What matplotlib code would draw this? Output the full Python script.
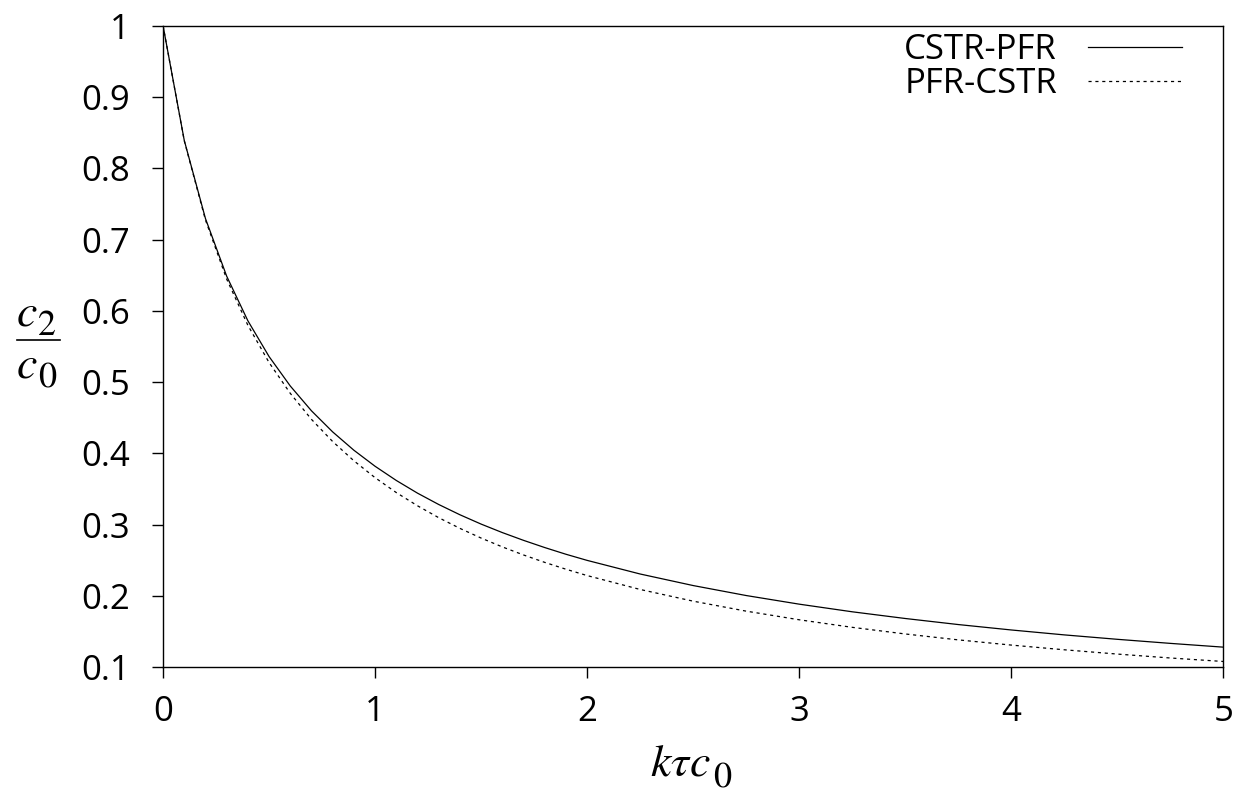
import matplotlib.pyplot as plt
from matplotlib.lines import Line2D

plt.rcParams['font.family'] = ['Open Sans', 'DejaVu Sans']
plt.rcParams['mathtext.fontset'] = 'stix'

# k*tau*c0 values and outlet concentration ratio c2/c0
x = [0, .1, .2, .3, .4, .5, .6, .7, .8, .9, 1.0,
     1.1, 1.2, 1.3, 1.4, 1.5, 1.6, 1.7, 1.8, 1.9, 2.0,
     2.25, 2.5, 2.75, 3.0, 3.25, 3.5, 3.75, 4.0, 4.25, 4.5, 4.75, 5.0]
cstr_pfr = [1.0, .8392, .7295, .6487, .5861, .5359, .4946, .4598, .4302, .4045, .3820,
            .3621, .3443, .3284, .3140, .3009, .2890, .2781, .2680, .2586, .2500,
            .2309, .2147, .2007, .1886, .1779, .1685, .1600, .1524, .1455, .1393, .1336, .1283]
pfr_cstr = [1.0, .8387, .7275, .6446, .5798, .5275, .4843, .4478, .4167, .3897, .3660,
            .3451, .3266, .3099, .2949, .2813, .2689, .2576, .2472, .2376, .2287,
            .2092, .1928, .1788, .1667, .1561, .1468, .1385, .1312, .1246, .1186, .1131, .1082]

xticks = [0, 1, 2, 3, 4, 5]
yticks = [0.1, 0.2, 0.3, 0.4, 0.5, 0.6, 0.7, 0.8, 0.9, 1]
ytick_labels = ['0.1', '0.2', '0.3', '0.4', '0.5', '0.6', '0.7', '0.8', '0.9', '1']

fig = plt.figure(figsize=(12.38, 7.95), dpi=100)
ax = fig.add_axes([0.1317, 0.1606, 0.8564, 0.8071])

ax.plot(x, cstr_pfr, color='black', lw=0.9, label='CSTR-PFR')
ax.plot(x, pfr_cstr, color='black', lw=0.9, dashes=(2.5, 3), label='PFR-CSTR')

ax.set_xlim(0, 5)
ax.set_ylim(0.1, 1)
ax.set_xticks(xticks)
ax.set_yticks(yticks)
ax.set_yticklabels(ytick_labels)
ax.tick_params(direction='out', length=8, width=1, labelsize=25)
ax.tick_params(axis='y', pad=16)
ax.tick_params(axis='x', pad=12)
for s in ax.spines.values():
    s.set_linewidth(1)

leg = ax.legend(loc='upper right', bbox_to_anchor=(0.961, 0.989), frameon=False,
                markerfirst=False, fontsize=25, handlelength=2.7, handletextpad=0.9,
                labelspacing=0.0, borderpad=0, borderaxespad=0)

# axis labels drawn like the original: subscripts nearly full size
W, H = 1238, 795
math_kw = dict(fontsize=33, ha='left', va='baseline')
digit_kw = dict(fontsize=26, ha='left', va='baseline', family='STIXGeneral')

# x label k tau c_0
fig.canvas.draw()
xl = fig.text(650 / W, 1 - 775 / H, r'$k\tau c$', **math_kw)
bb = xl.get_window_extent(fig.canvas.get_renderer())
fig.text((bb.x1 + 2) / W, 1 - 788 / H, '0', **digit_kw)

# y label c_2 / c_0
fig.text(16 / W, 1 - 325 / H, r'$c$', **math_kw)
fig.text(38 / W, 1 - 335 / H, '2', **digit_kw)
fig.add_artist(Line2D([17 / W, 60 / W], [1 - 340 / H, 1 - 340 / H],
                      transform=fig.transFigure, color='black', lw=1.2))
fig.text(16 / W, 1 - 377 / H, r'$c$', **math_kw)
fig.text(38 / W, 1 - 388 / H, '0', **digit_kw)

plt.savefig('out.png')
